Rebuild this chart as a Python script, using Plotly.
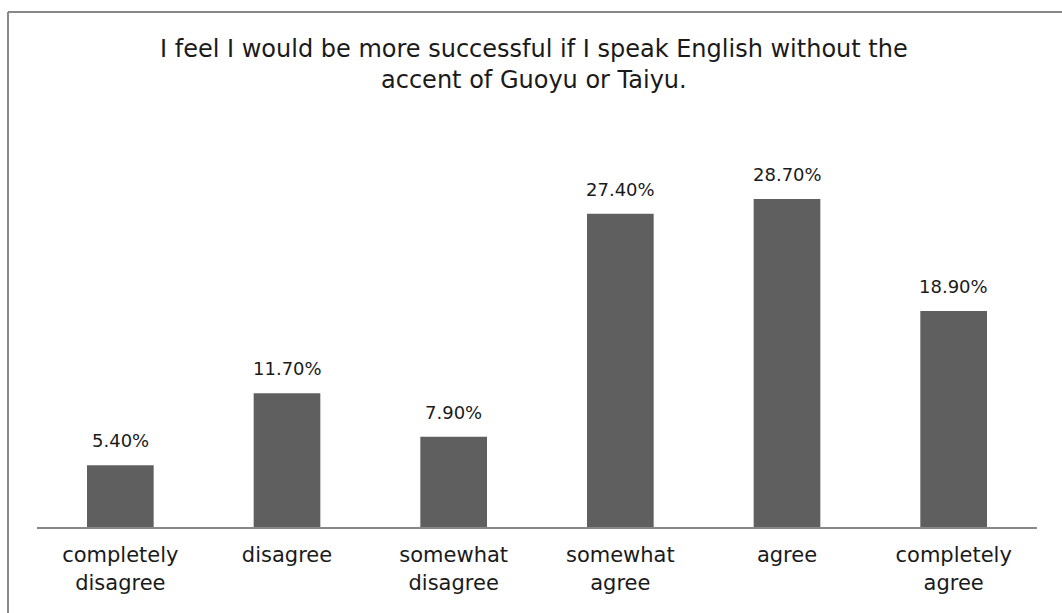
import plotly.graph_objects as go

categories = ["completely<br>disagree", "disagree", "somewhat<br>disagree",
              "somewhat<br>agree", "agree", "completely<br>agree"]
values = [5.4, 11.7, 7.9, 27.4, 28.7, 18.9]
labels = ["5.40%", "11.70%", "7.90%", "27.40%", "28.70%", "18.90%"]
title_text = "I feel I would be more successful if I speak English without the<br>accent of Guoyu or Taiyu."

FONT = "DejaVu Sans"

fig = go.Figure(go.Bar(
    x=categories, y=values,
    marker=dict(color="#5f5f5f", line=dict(width=0)),
))

annotations = [
    dict(x=c, y=v, text=t, xref="x", yref="y", showarrow=False,
         yanchor="bottom", yshift=12,
         font=dict(family=FONT, size=18, color="#1a1a1a"))
    for c, v, t in zip(categories, values, labels)
]
annotations.append(dict(
    text=title_text, xref="paper", yref="paper", x=0.497, y=1.155,
    xanchor="center", yanchor="middle", showarrow=False,
    font=dict(family=FONT, size=24, color="#1a1a1a"),
))

fig.update_layout(
    width=1062, height=613,
    margin=dict(l=37, r=25, t=127, b=86),
    paper_bgcolor="white", plot_bgcolor="white",
    bargap=0.6,
    showlegend=False,
    annotations=annotations,
    xaxis=dict(showline=True, linecolor="#888888", linewidth=2,
               ticks="", showgrid=False, ticklabelstandoff=8,
               tickfont=dict(family=FONT, size=21, color="#1a1a1a")),
    yaxis=dict(range=[0, 35], visible=False, showgrid=False),
    shapes=[
        dict(type="line", xref="paper", yref="paper",
             x0=-0.029, x1=1.1, y0=1.2875, y1=1.2875,
             line=dict(color="#888888", width=2)),
        dict(type="line", xref="paper", yref="paper",
             x0=-0.029, x1=-0.029, y0=1.2875, y1=-0.3,
             line=dict(color="#888888", width=2)),
    ],
)

fig.write_html("out.html")
